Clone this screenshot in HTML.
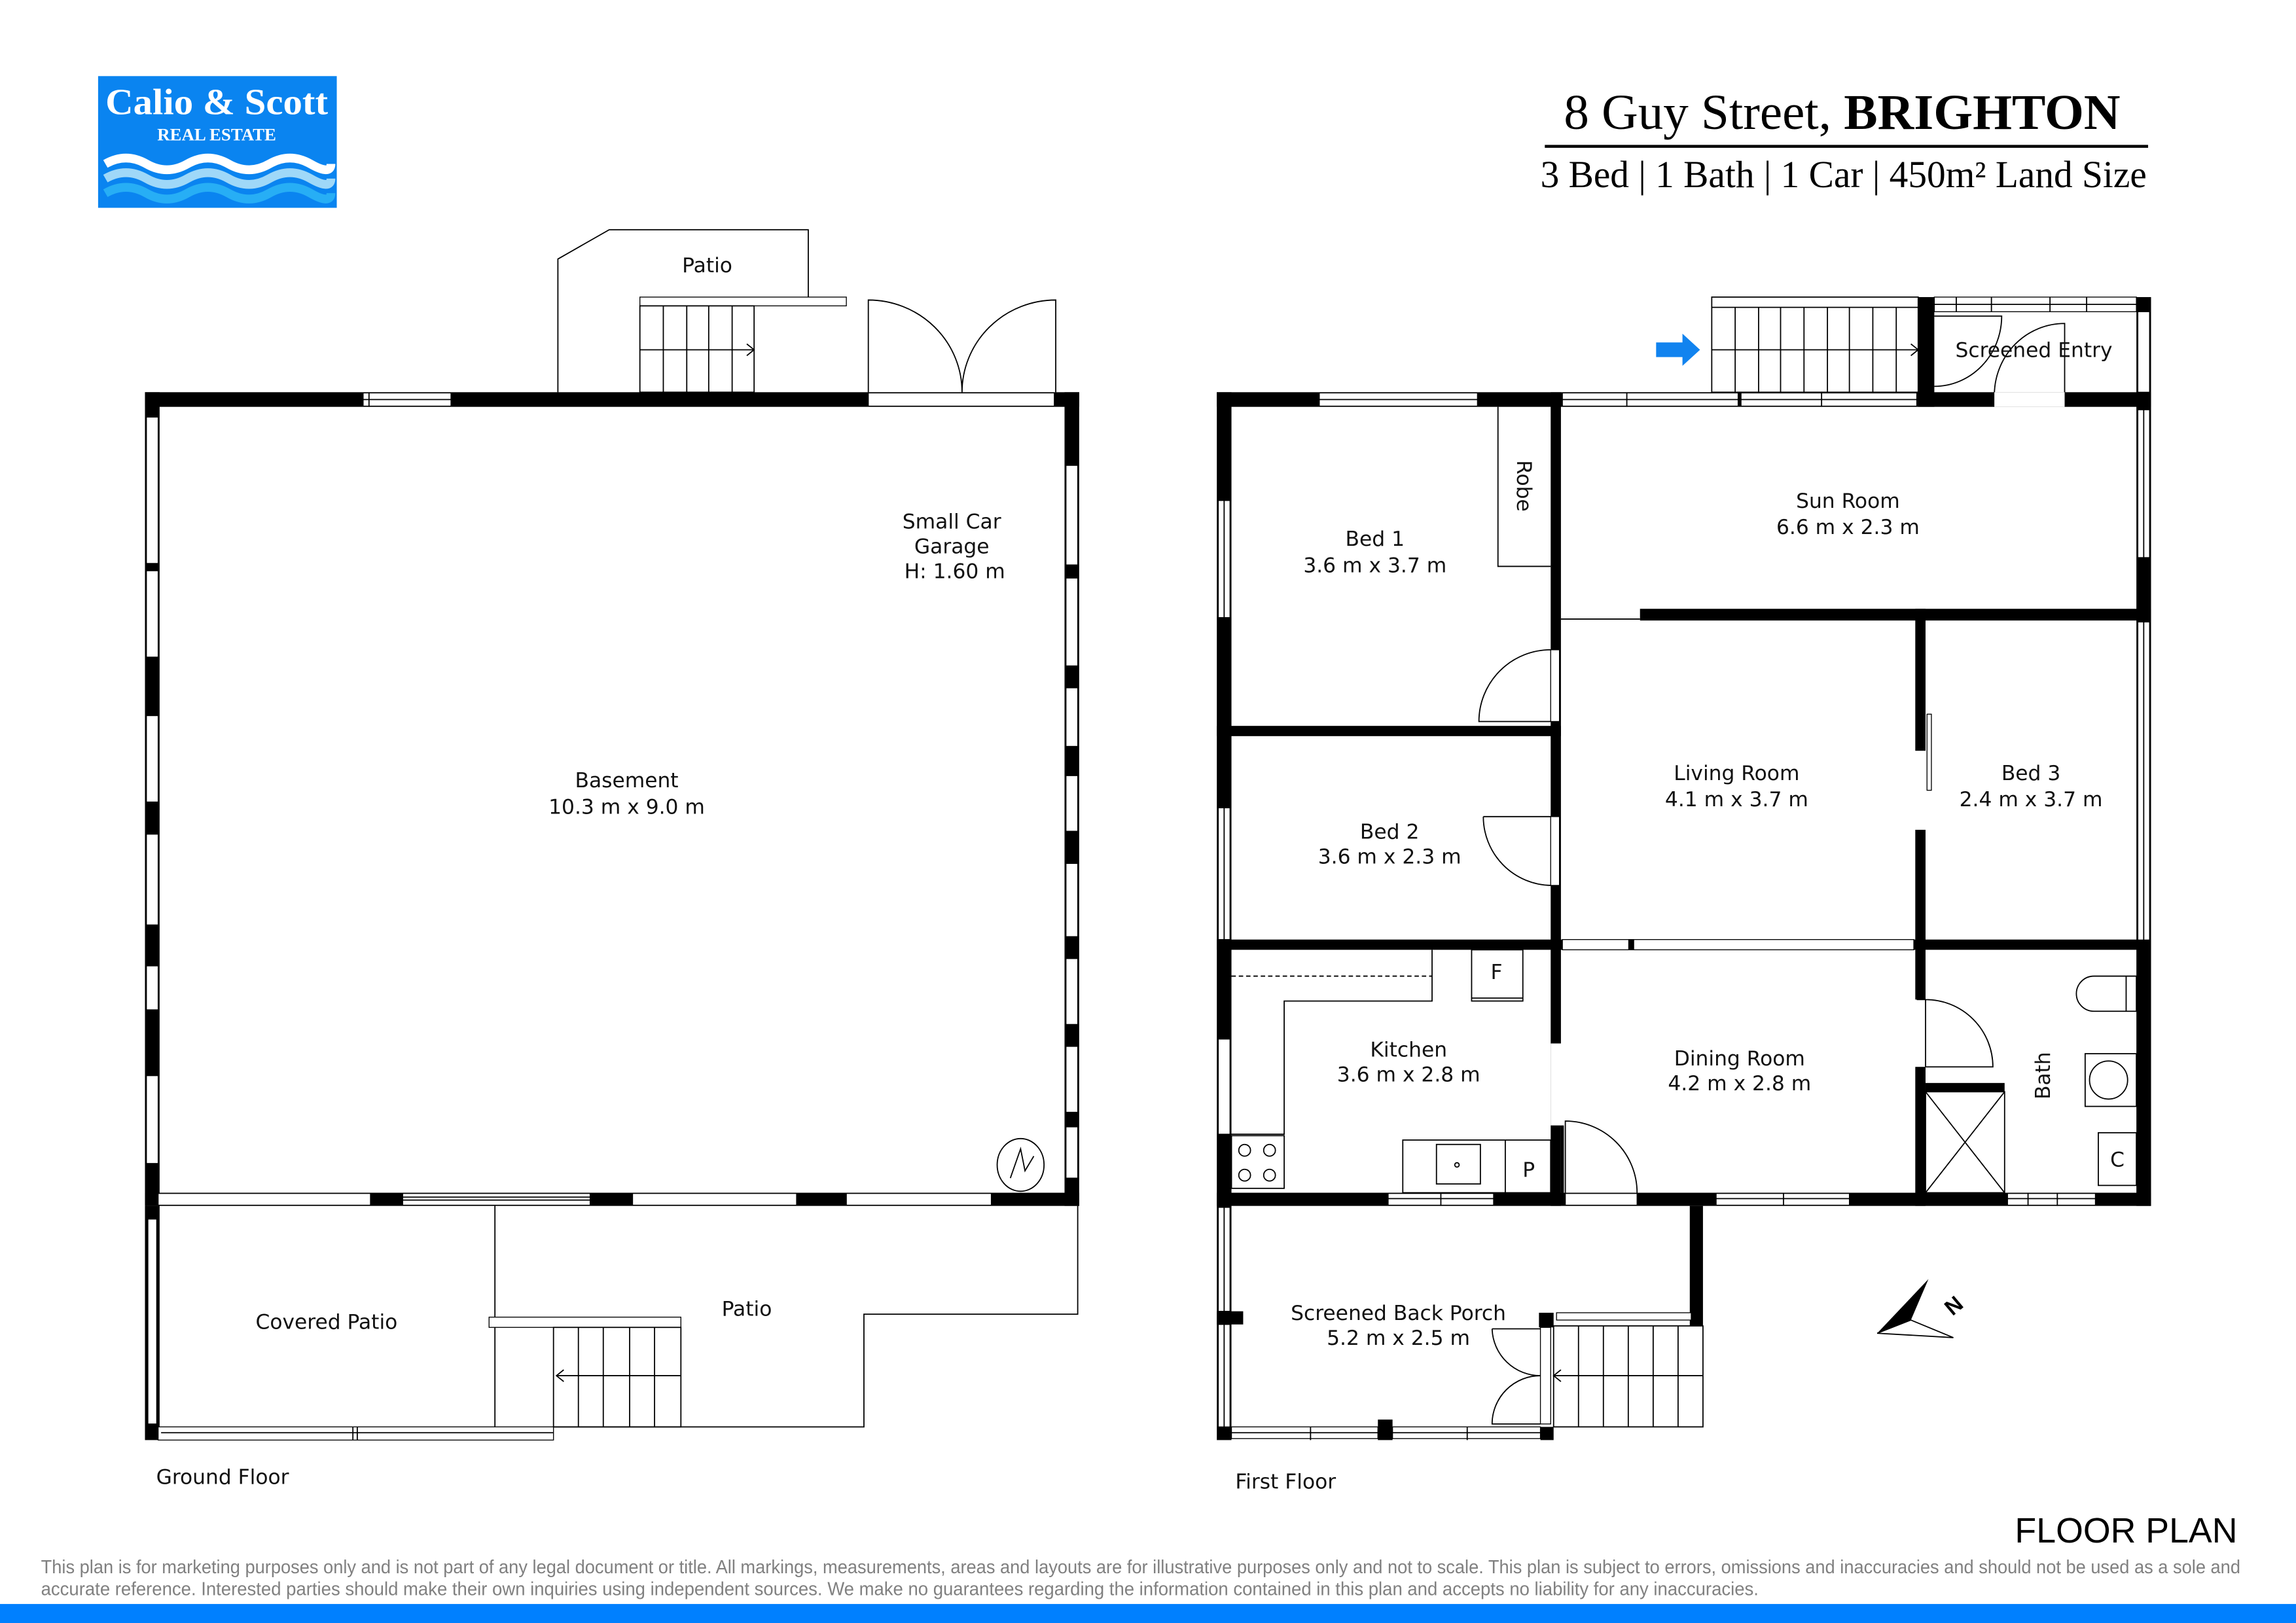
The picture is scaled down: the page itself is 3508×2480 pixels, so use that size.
<!DOCTYPE html>
<html><head><meta charset="utf-8"><style>
html,body{margin:0;padding:0;background:#fff}
svg{display:block}
.t{font-family:"DejaVu Sans",sans-serif;font-size:14px;fill:#111;text-anchor:middle}
.ln{fill:none;stroke:#000;stroke-width:0.8}
.w{fill:#fff;stroke:#000;stroke-width:0.6}
</style></head><body>
<svg width="3508" height="2480" viewBox="0 0 1568 1109" preserveAspectRatio="none" xmlns="http://www.w3.org/2000/svg">
<rect width="1568" height="1109" fill="#fff"/>
<!-- Logo -->
<rect x="67" y="52" width="163" height="90" fill="#0a84f0"/>
<text x="148" y="78" font-family="Liberation Serif,serif" font-weight="bold" font-size="25" fill="#fff" text-anchor="middle" textLength="152" lengthAdjust="spacingAndGlyphs">Calio &amp; Scott</text>
<text x="148" y="96" font-family="Liberation Serif,serif" font-weight="bold" font-size="12" fill="#fff" text-anchor="middle">REAL ESTATE</text>
<g fill="none" stroke-width="6">
<path d="M72 112 q14 -8 28 0 t28 0 t28 0 t28 0 t28 0 t14 0" stroke="#fff"/>
<path d="M72 122 q14 -8 28 0 t28 0 t28 0 t28 0 t28 0 t14 0" stroke="#9fd8f8"/>
<path d="M72 132 q14 -8 28 0 t28 0 t28 0 t28 0 t28 0 t14 0" stroke="#27aef5"/>
</g>
<!-- Header -->
<text x="1068" y="88" font-family="Liberation Serif,serif" font-size="34" textLength="380" lengthAdjust="spacingAndGlyphs">8 Guy Street, <tspan font-weight="bold">BRIGHTON</tspan></text>
<rect x="1055" y="99" width="412" height="2" fill="#000"/>
<text x="1052" y="128" font-family="Liberation Serif,serif" font-size="26" textLength="414" lengthAdjust="spacingAndGlyphs">3 Bed | 1 Bath | 1 Car | 450m² Land Size</text>

<!-- ============ GROUND FLOOR ============ -->
<path class="ln" d="M381 268 V177 L416 157 H552 V203"/>
<rect class="w" x="437" y="203" width="141" height="6"/>
<g class="ln"><rect x="437" y="209" width="78" height="59"/><path d="M453 209V268M469 209V268M484 209V268M500 209V268M437 239H515M510 235L515 239L510 243"/></g>
<path class="ln" d="M593 268 V205 A64 63 0 0 1 657 268 A64 63 0 0 1 721 205 V268"/>
<rect x="99" y="268" width="638" height="10" fill="#000"/>
<rect class="w" x="248" y="268.5" width="60" height="9"/><path class="ln" d="M248 273H308M252 268V278"/>
<rect class="w" x="593" y="268.5" width="127" height="9"/>
<rect x="99" y="268" width="10" height="556" fill="#000"/>
<rect x="727" y="268" width="10" height="556" fill="#000"/>
<rect x="99" y="815" width="638" height="9" fill="#000"/>
<g class="w">
<rect x="100" y="285" width="8" height="100"/><rect x="100" y="390" width="8" height="59"/><rect x="100" y="489" width="8" height="59"/><rect x="100" y="570" width="8" height="62"/><rect x="100" y="660" width="8" height="30"/><rect x="100" y="735" width="8" height="60"/>
<rect x="728" y="318" width="8" height="68"/><rect x="728" y="395" width="8" height="60"/><rect x="728" y="470" width="8" height="40"/><rect x="728" y="530" width="8" height="38"/><rect x="728" y="590" width="8" height="50"/><rect x="728" y="655" width="8" height="45"/><rect x="728" y="715" width="8" height="45"/><rect x="728" y="770" width="8" height="35"/>
<rect x="108" y="815.5" width="145" height="8"/><rect x="275" y="815.5" width="128" height="8"/><rect x="432" y="815.5" width="112" height="8"/><rect x="578" y="815.5" width="99" height="8"/>
</g>
<path class="ln" d="M275 818H403M275 820H403"/>
<ellipse class="ln" cx="697" cy="796" rx="16" ry="18"/><path class="ln" d="M690 805 L697 785 L700 800 L706 790"/>
<text class="t" x="428" y="538">Basement</text>
<text class="t" x="428" y="556">10.3 m x 9.0 m</text>
<text class="t" x="650" y="361" font-family="Liberation Sans,sans-serif" font-size="13.5">Small Car</text>
<text class="t" x="650" y="378" font-family="Liberation Sans,sans-serif" font-size="13.5">Garage</text>
<text class="t" x="652" y="395" font-family="Liberation Sans,sans-serif" font-size="13.5">H: 1.60 m</text>
<text class="t" x="483" y="186" font-family="Liberation Sans,sans-serif" font-size="14">Patio</text>
<rect x="99" y="824" width="10" height="160" fill="#000"/>
<rect class="w" x="101" y="833" width="6" height="140"/>
<path class="ln" d="M338 824 V975 M736 824 V898 H590 V975 H378"/>
<rect x="108" y="975" width="270" height="9" class="w"/><path class="ln" d="M110 979H378M241 975V984M244 975V984"/>
<rect class="w" x="334" y="900" width="131" height="7"/>
<g class="ln"><rect x="378" y="907" width="87" height="68"/><path d="M395 907V975M412 907V975M430 907V975M447 907V975M380 940H465M385 936L380 940L385 944"/></g>
<text class="t" x="223" y="908">Covered Patio</text>
<text class="t" x="510" y="899">Patio</text>
<text class="t" x="152" y="1014">Ground Floor</text>

<!-- ============ FIRST FLOOR ============ -->
<g class="ln"><rect x="1169" y="203" width="141" height="65"/><path d="M1169 210H1310M1185 210V268M1201 210V268M1216 210V268M1232 210V268M1248 210V268M1263 210V268M1279 210V268M1295 210V268M1169 239H1310M1305 235L1310 239L1305 243"/></g>
<path d="M1131 234H1149V228L1161 239L1149 250V244H1131Z" fill="#1183ef"/>
<rect x="1310" y="203" width="11" height="75" fill="#000"/>
<rect x="1459" y="203" width="10" height="75" fill="#000"/>
<rect class="w" x="1321" y="203" width="138" height="10"/><path class="ln" d="M1321 208H1459M1336 203V213M1360 203V213M1400 203V213M1425 203V213"/>
<rect class="w" x="1460" y="213" width="8" height="55"/>
<path class="ln" d="M1321 216 H1367 A46 48 0 0 1 1321 264 M1410 270 V221 A48 49 0 0 0 1362 270"/>
<text class="t" x="1389" y="244">Screened Entry</text>
<rect x="831" y="268" width="638" height="10" fill="#000"/>
<rect x="831" y="268" width="10" height="716" fill="#000"/>
<rect x="1459" y="268" width="10" height="556" fill="#000"/>
<rect x="831" y="815" width="638" height="9" fill="#000"/>
<rect x="1362" y="268" width="48" height="10" fill="#fff"/>
<g class="w">
<rect x="901" y="268.5" width="108" height="9"/><rect x="1067" y="268.5" width="120" height="9"/><rect x="1189" y="268.5" width="120" height="9"/>
<rect x="832" y="342" width="8" height="80"/><rect x="832" y="552" width="8" height="90"/><rect x="832" y="710" width="8" height="65"/><rect x="832" y="825" width="8" height="71"/><rect x="832" y="905" width="8" height="70"/>
<rect x="1460" y="280" width="8" height="101"/><rect x="1460" y="425" width="8" height="218"/>
<rect x="948" y="815.5" width="72" height="8"/><rect x="1069" y="815.5" width="49" height="8"/><rect x="1172" y="815.5" width="91" height="8"/><rect x="1371" y="815.5" width="60" height="8"/>
<rect x="841" y="975" width="100" height="8"/><rect x="951" y="975" width="101" height="8"/>
</g>
<path class="ln" d="M901 273H1009M1067 273H1309M948 819H1020M1172 819H1263M1371 819H1431M841 979H1052M1111 268V278M1244 268V278M1464 425V643M1464 280V381M836 342V422M836 552V642M836 825V975M984 815V824M1218 815V824M1385 815V824M1405 815V824M895 975V984M1002 975V984"/>
<rect x="831" y="896" width="18" height="9" fill="#000"/>
<rect x="941" y="970" width="10" height="14" fill="#000"/>
<rect x="1052" y="975" width="9" height="9" fill="#000"/>
<rect x="1059" y="268" width="7" height="556" fill="#000"/>
<rect class="w" x="1059" y="444" width="6" height="49"/>
<rect class="w" x="1059" y="558" width="6" height="47"/>
<rect x="1120" y="416" width="349" height="8" fill="#000"/>
<path class="ln" d="M1066 423H1120" stroke="#ccc"/>
<rect x="831" y="496" width="235" height="7" fill="#000"/>
<rect x="831" y="642" width="638" height="7" fill="#000"/>
<rect class="w" x="1067" y="642" width="240" height="7" stroke="#bbb"/>
<rect x="1112" y="642" width="4" height="7" fill="#000"/>
<rect x="1308" y="416" width="7" height="408" fill="#000"/>
<rect x="1307" y="513" width="9" height="54" fill="#fff"/>
<rect class="w" x="1316" y="488" width="3" height="52"/>
<rect x="1307" y="683" width="9" height="46" fill="#fff"/>
<rect x="1059" y="713" width="8" height="56" fill="#fff"/>
<rect x="1066" y="769" width="2" height="46" fill="#000"/>
<path class="ln" d="M1023 278 V387 H1059"/>
<text class="t" x="1041" y="332" transform="rotate(90 1041 332)" dy="5">Robe</text>
<path class="ln" d="M1059 444 A49 49 0 0 0 1010 493 H1059"/>
<path class="ln" d="M1013 558 H1059 M1013 558 A47 47 0 0 0 1059 605"/>
<path class="ln" d="M1069 815 V766 A49 49 0 0 1 1118 815"/>
<path class="ln" d="M1309 683 H1315 V729 M1315 683 A46 46 0 0 1 1361 729 H1315"/>
<path class="ln" d="M841 667 H978" stroke-dasharray="3 2"/>
<path class="ln" d="M978 649 V684 H877 V775 H841"/>
<rect class="ln" x="1005" y="649" width="35" height="35"/><path class="ln" d="M1005 682H1040"/>
<text class="t" x="1022" y="669">F</text>
<rect class="ln" x="841" y="776" width="36" height="36"/>
<g class="ln"><circle cx="850" cy="786" r="4"/><circle cx="867" cy="786" r="4"/><circle cx="850" cy="803" r="4"/><circle cx="867" cy="803" r="4"/></g>
<rect class="ln" x="958" y="779" width="101" height="36"/><path class="ln" d="M1028 779V815"/>
<rect class="ln" x="981" y="782" width="30" height="27"/><circle class="ln" cx="995" cy="796" r="1.5"/>
<text class="t" x="1044" y="804">P</text>
<rect x="1315" y="740" width="54" height="6" fill="#000"/>
<rect class="ln" x="1315" y="746" width="54" height="69"/><path class="ln" d="M1315 746L1369 815M1369 746L1315 815"/>
<path class="ln" d="M1430 667 H1459 V691 H1430 A12 12 0 0 1 1430 667 M1452 667V691"/>
<rect class="ln" x="1424" y="720" width="35" height="36"/><circle class="ln" cx="1440" cy="738" r="13"/>
<rect class="ln" x="1433" y="774" width="26" height="36"/>
<text class="t" x="1446" y="797">C</text>
<text class="t" x="1395" y="735" transform="rotate(-90 1395 735)" dy="5">Bath</text>
<rect x="1154" y="824" width="9" height="82" fill="#000"/>
<rect x="1051" y="897" width="10" height="10" fill="#000"/>
<rect class="w" x="1063" y="897" width="92" height="5"/>
<g class="ln"><rect x="1061" y="906" width="102" height="69"/><path d="M1078 906V975M1095 906V975M1112 906V975M1129 906V975M1146 906V975M1061 940H1163M1066 936L1061 940L1066 944"/></g>
<rect class="w" x="1052" y="907" width="7" height="66"/>
<path class="ln" d="M1019 908 A33 33 0 0 0 1052 940 A33 33 0 0 0 1019 973 H1052 M1019 908 H1052"/>
<path d="M1282 911 L1317 874 L1305 902 Z" fill="#000"/>
<path class="ln" d="M1282 911 L1305 902 L1334 914 Z" stroke-width="1.5"/>
<text x="1335" y="897" font-family="Liberation Sans,sans-serif" font-size="15" font-weight="bold" transform="rotate(-40 1335 893)" text-anchor="middle">N</text>
<text class="t" x="939" y="373">Bed 1</text><text class="t" x="939" y="391">3.6 m x 3.7 m</text>
<text class="t" x="1262" y="347">Sun Room</text><text class="t" x="1262" y="365">6.6 m x 2.3 m</text>
<text class="t" x="1186" y="533">Living Room</text><text class="t" x="1186" y="551">4.1 m x 3.7 m</text>
<text class="t" x="1387" y="533">Bed 3</text><text class="t" x="1387" y="551">2.4 m x 3.7 m</text>
<text class="t" x="949" y="573">Bed 2</text><text class="t" x="949" y="590">3.6 m x 2.3 m</text>
<text class="t" x="962" y="722">Kitchen</text><text class="t" x="962" y="739">3.6 m x 2.8 m</text>
<text class="t" x="1188" y="728">Dining Room</text><text class="t" x="1188" y="745">4.2 m x 2.8 m</text>
<text class="t" x="955" y="902">Screened Back Porch</text><text class="t" x="955" y="919">5.2 m x 2.5 m</text>
<text class="t" x="878" y="1017">First Floor</text>

<text x="1528" y="1054" font-family="Liberation Sans,sans-serif" font-size="24" text-anchor="end" textLength="152" lengthAdjust="spacingAndGlyphs">FLOOR PLAN</text>
<text x="28" y="1075" font-family="Liberation Sans,sans-serif" font-size="13" fill="#808080" textLength="1502" lengthAdjust="spacingAndGlyphs">This plan is for marketing purposes only and is not part of any legal document or title.  All markings, measurements, areas and layouts are for  illustrative purposes only and not to scale.  This plan is subject to errors, omissions and inaccuracies and should not be used as a sole and</text>
<text x="28" y="1090" font-family="Liberation Sans,sans-serif" font-size="13" fill="#808080" textLength="1173" lengthAdjust="spacingAndGlyphs">accurate reference.  Interested parties should make their own inquiries using independent sources.  We make no guarantees regarding the information contained in this plan and accepts no liability for any inaccuracies.</text>
<rect x="0" y="1096" width="1568" height="13" fill="#0080ff"/>
</svg>
</body></html>
